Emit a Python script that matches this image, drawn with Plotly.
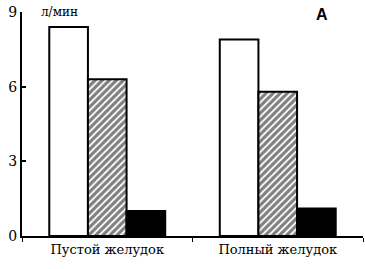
import plotly.graph_objects as go

categories = ["Пустой желудок", "Полный желудок"]
white_vals = [8.4, 7.9]
hatch_vals = [6.3, 5.8]
black_vals = [1.0, 1.1]
y_ticks = [0, 3, 6, 9]

serif = "DejaVu Serif"

fig = go.Figure()
line = dict(color="black", width=2)
fig.add_trace(go.Bar(x=categories, y=white_vals, marker=dict(color="white", line=line)))
fig.add_trace(go.Bar(x=categories, y=hatch_vals, marker=dict(color="white", line=line,
                     pattern=dict(shape="/", fgcolor="black", bgcolor="white", size=5, solidity=0.65))))
fig.add_trace(go.Bar(x=categories, y=black_vals, marker=dict(color="black", line=line)))

fig.update_layout(
    width=365, height=269,
    margin=dict(l=22, r=2, t=12, b=33),
    barmode="group", bargap=0.32, bargroupgap=0,
    showlegend=False,
    plot_bgcolor="white", paper_bgcolor="white",
    font=dict(family=serif, size=13, color="black"),
)
fig.update_xaxes(range=[-0.5, 1.5], showline=True, linecolor="black", linewidth=2,
                 ticks="outside", tickson="boundaries", ticklen=4, tickcolor="black",
                 tickwidth=1, showgrid=False, zeroline=False, automargin=False,
                 tickfont=dict(family=serif, size=13))
fig.update_yaxes(range=[0, 9], tickvals=y_ticks, showline=True, linecolor="black", linewidth=2,
                 ticks="inside", ticklen=4, tickcolor="black", tickwidth=2,
                 showgrid=False, zeroline=False, automargin=False,
                 tickfont=dict(family=serif, size=14))
fig.add_annotation(x=0.05, y=1.0, xref="paper", yref="paper", text="л/мин", showarrow=False,
                   xanchor="left", yanchor="middle", font=dict(family=serif, size=12))
fig.add_annotation(x=0.88, y=0.99, xref="paper", yref="paper", text="<b>A</b>", showarrow=False,
                   xanchor="center", yanchor="middle", font=dict(family="Liberation Sans, Arial, sans-serif", size=16))
fig.write_html("out.html", config={"displayModeBar": False},
               post_script="document.body.style.margin='0';document.body.style.overflow='hidden';")
